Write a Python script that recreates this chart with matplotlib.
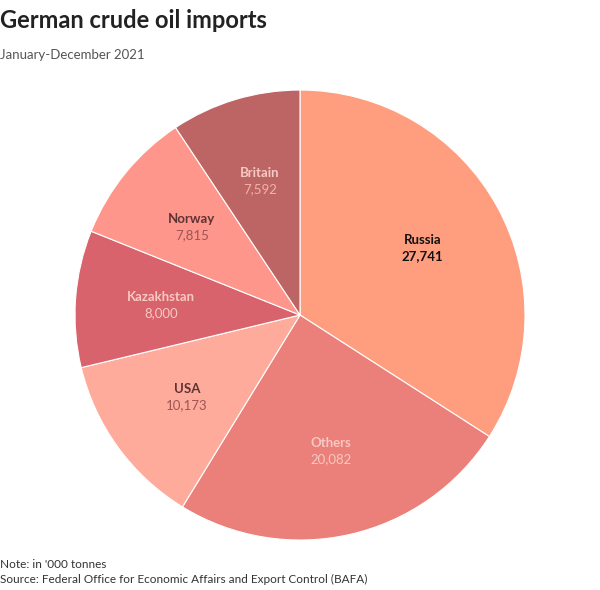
import matplotlib.pyplot as plt
import numpy as np

plt.rcParams['font.family'] = ['Lato', 'DejaVu Sans']

countries = ['Russia', 'Others', 'USA', 'Kazakhstan', 'Norway', 'Britain']
imports = [27741, 20082, 10173, 8000, 7815, 7592]
colors = ['#FE9E7E', '#EB7F7A', '#FEAB9C', '#D8636C', '#FE968B', '#BD6565']
name_colors = ['#111111', '#F7C9C2', '#5E3333', '#F7C9C2', '#5E3333', '#F7C9C2']
value_colors = ['#111111', '#F7C9C2', '#9E5555', '#F7C9C2', '#9E5555', '#F2B2AA']

fig = plt.figure(figsize=(6, 5.9), dpi=100)
ax = fig.add_axes([0.125, 0.0847, 0.75, 0.7627])

wedges, _ = ax.pie(imports, colors=colors, startangle=90, counterclock=False,
                   wedgeprops=dict(edgecolor='white', linewidth=0.8))
ax.set_aspect('equal')
ax.set_xlim(-1, 1)
ax.set_ylim(-1, 1)

for i, w in enumerate(wedges):
    ang = np.deg2rad((w.theta1 + w.theta2) / 2)
    x = 0.62 * np.cos(ang)
    y = 0.62 * np.sin(ang)
    bold_val = 'bold' if i == 0 else 'normal'
    ax.text(x, y + 0.037, countries[i], ha='center', va='center',
            fontsize=9.5, fontweight='bold', color=name_colors[i])
    ax.text(x, y - 0.035, f'{imports[i]:,}', ha='center', va='center',
            fontsize=9.5, fontweight=bold_val, color=value_colors[i])

fig.text(0.0, 0.965, 'German crude oil imports', fontsize=17, fontweight='bold',
         color='#222222', va='center')
fig.text(0.0, 0.907, 'January-December 2021', fontsize=9.5,
         color='#555555', va='center')
fig.text(0.0, 0.044, "Note: in '000 tonnes", fontsize=8.5, color='#333333',
         va='center')
fig.text(0.0, 0.017, 'Source: Federal Office for Economic Affairs and Export Control (BAFA)',
         fontsize=8.5, color='#333333', va='center')

fig.savefig('out.png', dpi=100)
